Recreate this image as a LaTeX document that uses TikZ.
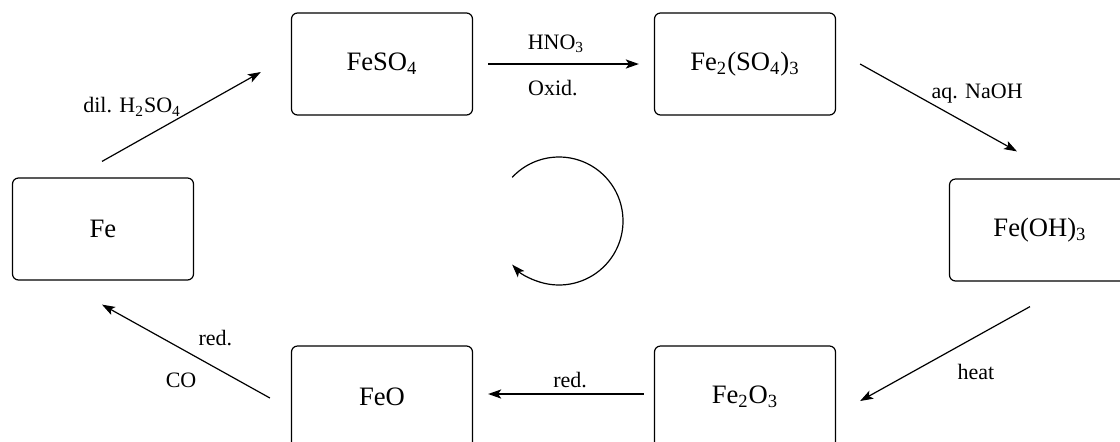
\documentclass[tikz,border=0pt]{standalone}
\usepackage{fontspec}
\setmainfont{Liberation Serif}
\usetikzlibrary{positioning,arrows.meta,calc}

\begin{document}
\begin{tikzpicture}[x=0.5pt,y=-0.5pt,
    cmpd/.style={draw,line width=0.6pt,rounded corners=3pt,minimum width=90.5pt,minimum height=51pt,inner sep=0pt,font=\fontsize{13.3}{16}\selectfont},
    lbl/.style={inner sep=0pt,font=\fontsize{11}{13}\selectfont},
    arr/.style={-{Stealth[length=6.5pt,width=4.5pt,inset=1.5pt]},line width=0.6pt},
    harr/.style={arr,line width=1pt}]
  \useasboundingbox (0,0) rectangle (1120,441);
  % compounds
  \node[cmpd] (Fe)     at (103,229)  {Fe};
  \node[cmpd] (FeSO4)  at (382,64)   {FeSO\textsubscript{4}};
  \node[cmpd] (FeSO43) at (745,64)   {Fe\textsubscript{2}(SO\textsubscript{4})\textsubscript{3}};
  \node[cmpd] (FeOH3)  at (1040,230) {Fe(OH)\textsubscript{3}};
  \node[cmpd] (Fe2O3)  at (745,397)  {Fe\textsubscript{2}O\textsubscript{3}};
  \node[cmpd] (FeO)    at (382,397)  {FeO};
  % reactions
  \draw[arr] ($(Fe.north)+(-1,-16)$) -- ($(FeSO4.west)+(-30,8)$)
    node[lbl,pos=.5,anchor=south east] (dil) {dil. H\textsubscript{2}SO\textsubscript{4}};
  \draw[harr] ($(FeSO4.east)+(15,0)$) -- ($(FeSO43.west)+(-15,0)$)
    node[lbl,pos=.45,above=5pt] (hno) {HNO\textsubscript{3}}
    node[lbl,pos=.43,below=7.5pt] (oxid) {Oxid.};
  \draw[arr] ($(FeSO43.east)+(24,0)$) -- ($(FeOH3.north)+(-23,-27)$)
    node[lbl,pos=.452,anchor=south west] (naoh) {aq. NaOH};
  \draw[arr] ($(FeOH3.south)+(-10,25)$) -- ($(Fe2O3.east)+(24,4)$)
    node[lbl,pos=.5,below right=5pt and 6pt] (heat) {heat};
  \draw[harr] ($(Fe2O3.west)+(-10,-3)$) -- ($(FeO.east)+(15,-3)$)
    node[lbl,pos=.474,above=2.5pt] (red1) {red.};
  \draw[arr] ($(FeO.west)+(-21,1)$) -- ($(Fe.south)+(-1,24)$)
    node[lbl,pos=.446,above right=5pt and 1.5pt] (red2) {red.}
    node[lbl,pos=.387,below left=5pt and 4pt] (co) {CO};
  % cycle sign
  \coordinate (cyc) at (559,221);
  \draw[arr] ($(cyc)+(137:32pt)$) arc[start angle=137,end angle=-137,radius=32pt];
\end{tikzpicture}
\end{document}
